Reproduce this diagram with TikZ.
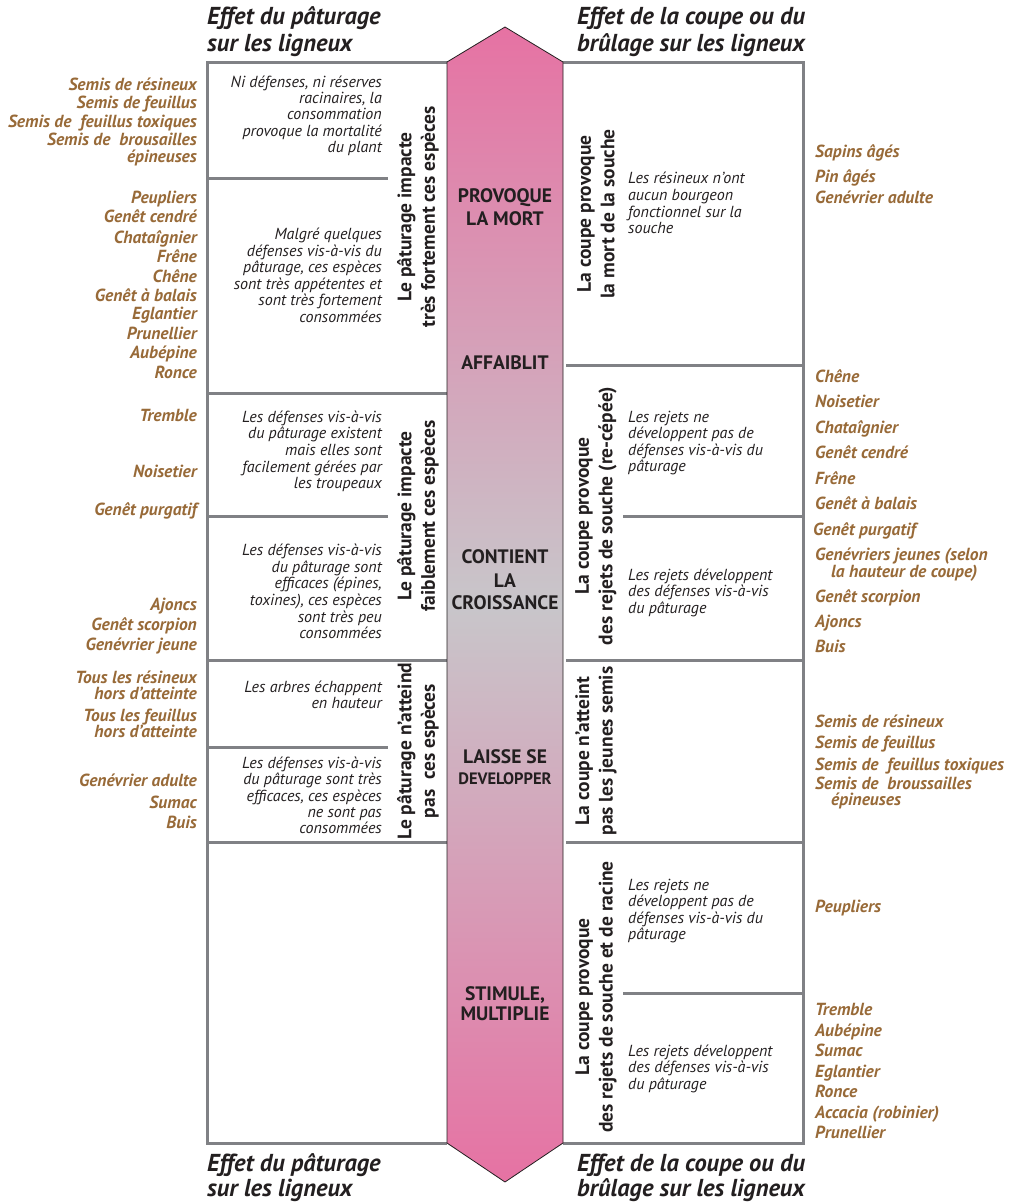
\documentclass[tikz,border=0pt]{standalone}
\usepackage{fontspec}
\setmainfont{PT Sans}
\definecolor{fr}{RGB}{128,129,133}
\definecolor{dk}{RGB}{35,31,32}
\definecolor{brn}{RGB}{152,106,56}
\definecolor{pk}{RGB}{230,114,163}
\definecolor{gy}{RGB}{200,198,202}
\tikzset{
  frame/.style={draw=fr,line width=3pt,line join=miter},
  spl/.style={font=\fontsize{17.5}{20}\selectfont\bfseries\itshape,anchor=east,text=brn,inner sep=0pt,text height=12.1pt,text depth=0.5pt},
  spr/.style={spl,anchor=west},
  dsl/.style={font=\fontsize{16}{18}\selectfont\itshape,text=dk,anchor=east,inner sep=0pt,text height=11.1pt,text depth=0.5pt},
  dsr/.style={dsl,anchor=west},
  vlab/.style={font=\fontsize{19.5}{23.5}\selectfont\bfseries,text=dk,align=center,rotate=90,inner sep=0pt},
  alab/.style={font=\fontsize{19.5}{21}\selectfont\bfseries,text=dk,inner sep=0pt,text height=14pt,text depth=0pt},
  ttl/.style={font=\fontsize{24.5}{28}\selectfont\bfseries\itshape,text=dk,anchor=west,inner sep=0pt,text height=16.3pt,text depth=0.5pt},
}
\begin{document}
\begin{tikzpicture}[x=1pt,y=-1pt]
\useasboundingbox (0,0) rectangle (1015,1203);
% frames
\draw[frame] (447,62) -- (207,62) -- (207,1143) -- (447,1143);
\draw[frame] (563,62) -- (803,62) -- (803,1143) -- (563,1143);
\foreach \y in {393,660,842} \draw[frame] (207,\y) -- (447,\y);
\foreach \y in {178,516,747} \draw[frame] (207,\y) -- (388,\y);
\foreach \y in {365,660,842} \draw[frame] (566,\y) -- (803,\y);
\foreach \y in {516,993} \draw[frame] (623,\y) -- (803,\y);
% central arrow
\shadedraw[top color=pk,bottom color=pk,middle color=gy,draw=dk,line width=0.8pt]
  (447,62) -- (505,27) -- (563,62) -- (563,1143) -- (505,1182) -- (447,1143) -- cycle;
% arrow labels
\foreach \t/\y [count=\i] in {PROVOQUE/195,LA MORT/218,AFFAIBLIT/362,CONTIENT/556,LA/580,CROISSANCE/602,LAISSE SE/756,{STIMULE,}/993,MULTIPLIE/1013}
  \node[alab] (a\i) at (505,\y) {\t};
\node[alab,font=\fontsize{16.5}{18}\selectfont\bfseries,text height=11.8pt] (a10) at (505,779) {DEVELOPPER};
% titles
\node[ttl] (t1) at (207,17) {Effet du pâturage};
\node[ttl] (t2) at (207,44) {sur les ligneux};
\node[ttl] (t3) at (577,17) {Effet de la coupe ou du};
\node[ttl] (t4) at (577,44) {brûlage sur les ligneux};
\node[ttl] (t5) at (207,1164) {Effet du pâturage};
\node[ttl] (t6) at (207,1189) {sur les ligneux};
\node[ttl] (t7) at (577,1164) {Effet de la coupe ou du};
\node[ttl] (t8) at (577,1189) {brûlage sur les ligneux};
% left species
\foreach \t/\y [count=\i] in {Semis de résineux/85,Semis de feuillus/103,Semis de\ \ feuillus toxiques/122,Semis de\ \ brousailles/140,épineuses/157,
  Peupliers/198,Genêt cendré/217,Chataîgnier/238,Frêne/257,Chêne/277,Genêt à balais/296,Eglantier/314,Prunellier/334,Aubépine/353,Ronce/373,
  Tremble/416,Noisetier/472,Genêt purgatif/510,Ajoncs/605,Genêt scorpion/625,Genévrier jeune/645,
  Tous les résineux/678,hors d’atteinte/694,Tous les feuillus/716,hors d’atteinte/732,Genévrier adulte/781,Sumac/803,Buis/823}
  \node[spl] (ls\i) at (197,\y) {\t};
% right species
\foreach \x/\t/\y [count=\i] in {815/Sapins âgés/152,815/Pin âgés/177,815/Genévrier adulte/198,
  815/Chêne/377,815/Noisetier/402,815/Chataîgnier/428,815/Genêt cendré/453,815/Frêne/479,815/Genêt à balais/504,813/Genêt purgatif/530,
  815/Genévriers jeunes (selon/555,831/la hauteur de coupe)/572,815/Genêt scorpion/597,815/Ajoncs/622,815/Buis/647,
  815/Semis de résineux/722,815/Semis de feuillus/743,815/Semis de\ \ feuillus toxiques/765,815/Semis de\ \ broussailles/784,831/épineuses/800,
  815/Peupliers/907,815/Tremble/1010,815/Aubépine/1031,815/Sumac/1051,815/Eglantier/1072,815/Ronce/1092,815/Accacia (robinier)/1113,815/Prunellier/1133}
  \node[spr] (rs\i) at (\x,\y) {\t};
% left descriptions
\foreach \t/\y [count=\i] in {{Ni défenses, ni réserves}/82,{racinaires, la}/98,consommation/114,provoque la mortalité/131,du plant/147,
  Malgré quelques/234,défenses vis-à-vis du/251,{pâturage, ces espèces}/267,sont très appétentes et/284,sont très fortement/300,consommées/317,
  Les défenses vis-à-vis/417,du pâturage existent/433,mais elles sont/450,facilement gérées par/467,les troupeaux/483,
  Les défenses vis-à-vis/550,du pâturage sont/567,{efficaces (épines,}/583,{toxines), ces espèces}/600,sont très peu/617,consommées/633,
  Les arbres échappent/687,en hauteur/703,
  Les défenses vis-à-vis/763,du pâturage sont très/779,{efficaces, ces espèces}/796,ne sont pas/812,consommées/828}
  \node[dsl] (ld\i) at (382,\y) {\t};
% right descriptions
\foreach \t/\y [count=\i] in {Les résineux n’ont/178,aucun bourgeon/195,fonctionnel sur la/212,souche/228,
  Les rejets ne/417,développent pas de/433,défenses vis-à-vis du/450,pâturage/466,
  Les rejets développent/575,des défenses vis-à-vis/591,du pâturage/608,
  Les rejets ne/885,développent pas de/901,défenses vis-à-vis du/918,pâturage/934,
  Les rejets développent/1051,des défenses vis-à-vis/1067,du pâturage/1084}
  \node[dsr] (rd\i) at (628,\y) {\t};
% vertical labels
\node[vlab] (v1) at (418,217) {Le pâturage impacte\\très fortement ces espèces};
\node[vlab] (v2) at (418,516) {Le pâturage impacte\\faiblement ces espèces};
\node[vlab] (v3) at (418,751) {Le pâturage n’atteind\\pas\ \ ces espèces};
\node[vlab] (v4) at (596,214) {La coupe provoque\\la mort de la souche};
\node[vlab] (v5) at (596,516) {La coupe provoque\\des rejets de souche (re-cépée)};
\node[vlab] (v6) at (596,751) {La coupe n’atteint\\pas les jeunes semis};
\node[vlab] (v7) at (596,997) {La coupe provoque\\des rejets de souche et de racine};
\end{tikzpicture}
\end{document}
